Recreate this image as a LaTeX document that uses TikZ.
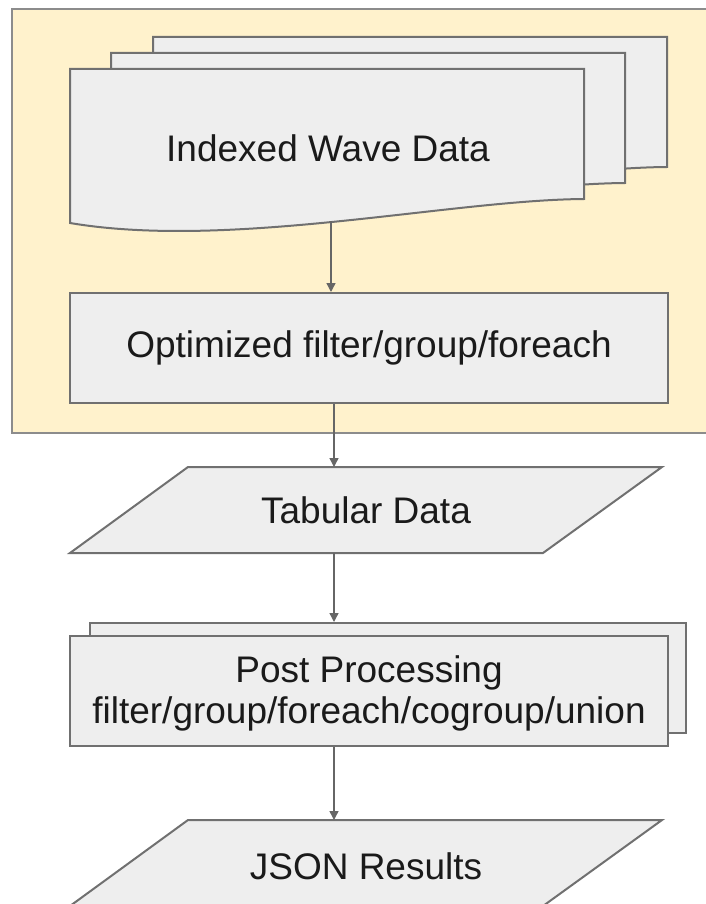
\documentclass[tikz,border=0pt]{standalone}
\usepackage{fontspec}
\setmainfont{Liberation Sans}
\usetikzlibrary{arrows.meta}
\definecolor{panelfill}{HTML}{FFF2CC}
\definecolor{panelline}{HTML}{8C8C8C}
\definecolor{shapefill}{HTML}{EEEEEE}
\definecolor{shapeline}{HTML}{707070}
\definecolor{arrowcol}{HTML}{666666}
\definecolor{textcol}{HTML}{1A1A1A}
\begin{document}
\begin{tikzpicture}[x=1pt,y=-1pt,
  panel/.style={fill=panelfill,draw=panelline,line width=2pt},
  box/.style={fill=shapefill,draw=shapeline,line width=2pt},
  txt/.style={text=textcol,font=\fontsize{37}{41}\selectfont,align=center,inner sep=0pt},
  arr/.style={draw=arrowcol,line width=1.4pt,-{Triangle[width=9pt,length=9pt]}}]
\useasboundingbox (0,0) rectangle (706,904);
\clip (0,0) rectangle (706,904);
% panel
\draw[panel] (12,9) rectangle (730,433);
% stacked documents
\foreach \dx/\dy in {83/-32, 41/-16, 0/0} {
  \draw[box, shift={(\dx,\dy)}] (70,69) -- (584,69) -- (584,199)
    .. controls (450,200) and (230,250) .. (70,223) -- cycle;
}
\node[txt] (wave) at (328,148) {Indexed Wave Data};
\coordinate (wavebot) at (331,221);
% optimized
\node[box,txt,minimum width=598pt,minimum height=110pt] (opt) at (369,348) {Optimized filter/group/foreach};
% tabular
\draw[box] (188,467) -- (662,467) -- (543,553) -- (70,553) -- cycle;
\node[txt] (tab) at (366,510) {Tabular Data};
\coordinate (tabtop) at (334,467);
\coordinate (tabbot) at (334,553);
% post processing
\node[box,minimum width=596pt,minimum height=110pt] (postback) at (388,678) {};
\node[box,minimum width=598pt,minimum height=110pt] (post) at (369,691) {};
\node[txt] (posttxt) at (369,693) {Post Processing\\filter/group/foreach/cogroup/union};
% json
\draw[box] (188,820) -- (662,820) -- (543,906) -- (70,906) -- cycle;
\node[txt] (json) at (366,866) {JSON Results};
\coordinate (jsontop) at (334,820);
% arrows
\draw[arr] (wavebot) -- (opt.north -| wavebot);
\draw[arr] (opt.south -| tabtop) -- (tabtop);
\draw[arr] (tabbot) -- (postback.north -| tabbot);
\draw[arr] (post.south -| jsontop) -- (jsontop);
\end{tikzpicture}
\end{document}
